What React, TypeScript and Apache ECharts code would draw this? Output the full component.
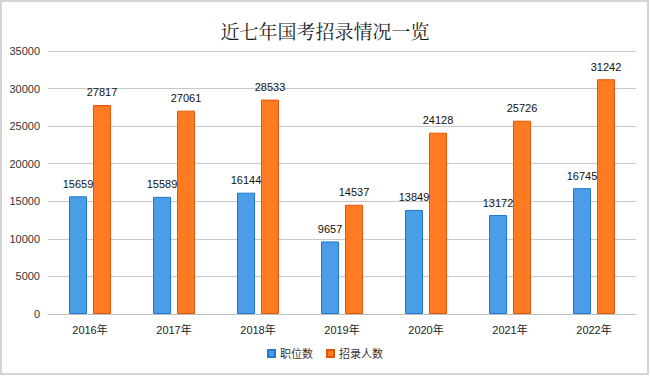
import React, { useEffect, useRef } from "react";
import * as echarts from "echarts";

const years = ["2016年", "2017年", "2018年", "2019年", "2020年", "2021年", "2022年"];
const positions = [15659, 15589, 16144, 9657, 13849, 13172, 16745];
const recruits = [27817, 27061, 28533, 14537, 24128, 25726, 31242];
const seriesNames = ["职位数", "招录人数"];
const titleText = "近七年国考招录情况一览";

const FONT = "'Liberation Sans', 'Noto Sans CJK SC', sans-serif";

export default function App() {
  const ref = useRef<HTMLDivElement>(null);
  useEffect(() => {
    if (!ref.current) return;
    const chart = echarts.init(ref.current, undefined, { renderer: "svg" });
    const label = {
      show: true,
      position: "top",
      distance: 7,
      color: "#111",
      fontSize: 11,
      fontFamily: FONT,
    };
    chart.setOption({
      animation: false,
      backgroundColor: "#fff",
      title: {
        text: titleText,
        left: "center",
        top: 16,
        textStyle: {
          fontSize: 19,
          fontWeight: "normal",
          color: "#1a1a1a",
          fontFamily: "'Noto Serif CJK SC', 'Noto Sans CJK SC', serif",
        },
      },
      legend: {
        data: seriesNames,
        bottom: 12,
        left: "center",
        itemWidth: 7,
        itemHeight: 7,
        itemGap: 13,
        icon: "rect",
        textStyle: { fontSize: 11, color: "#333", fontFamily: FONT },
      },
      grid: { left: 48, right: 14, top: 51, bottom: 62 },
      xAxis: {
        type: "category",
        data: years,
        axisLine: { lineStyle: { color: "#bfbfbf" } },
        axisTick: { show: false },
        axisLabel: { fontSize: 11, color: "#222", margin: 10, fontFamily: FONT },
      },
      yAxis: {
        type: "value",
        min: 0,
        max: 35000,
        interval: 5000,
        axisLine: { show: false },
        axisTick: { show: false },
        axisLabel: {
          fontSize: 11,
          color: "#333",
          margin: 8,
          fontFamily: FONT,
          formatter: (v: number) => String(v),
        },
        splitLine: { lineStyle: { color: "#c8c8c8" } },
      },
      series: [
        {
          name: seriesNames[0],
          type: "bar",
          data: positions,
          barWidth: 18,
          barGap: "33%",
          itemStyle: { color: "#4a9de6", borderColor: "#1f78d1", borderWidth: 1 },
          label,
        },
        {
          name: seriesNames[1],
          type: "bar",
          data: recruits,
          barWidth: 18,
          barGap: "33%",
          itemStyle: { color: "#ff7b22", borderColor: "#e2560c", borderWidth: 1 },
          label,
        },
      ],
      graphic: [
        {
          type: "rect",
          silent: true,
          shape: { x: 1, y: 1, width: 647, height: 373 },
          style: { fill: "none", stroke: "#d4d4d4", lineWidth: 2 },
          z: 100,
        },
      ],
    });
    return () => chart.dispose();
  }, []);
  return (
    <div
      ref={ref}
      style={{ position: "fixed", left: 0, top: 0, width: 650, height: 376 }}
    />
  );
}
